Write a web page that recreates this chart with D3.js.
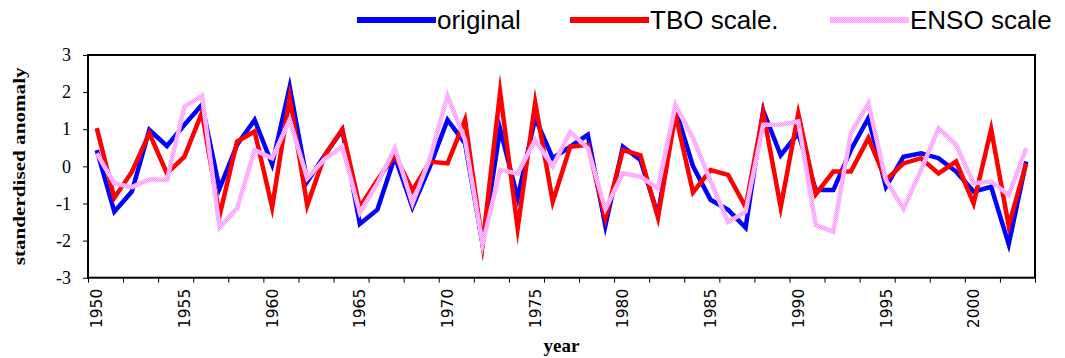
<!DOCTYPE html>
<html>
<head>
<meta charset="utf-8">
<script src="https://cdn.jsdelivr.net/npm/d3@7"></script>
<style>
  body { margin: 0; background: white; }
  svg { display: block; }
</style>
</head>
<body>
<div id="chart"></div>
<script>
const years = d3.range(1950, 2004);

const original = [0.44, -1.22, -0.68, 0.98, 0.55, 1.12, 1.66, -0.6, 0.58, 1.25,
  0.05, 2.14, -0.41, 0.3, 0.98, -1.55, -1.17, 0.26, -1.1, 0.0,
  1.25, 0.62, -2.1, 1.0, -0.85, 1.3, 0.22, 0.53, 0.85, -1.6,
  0.53, 0.17, -1.3, 1.55, 0.0, -0.9, -1.17, -1.65, 1.5, 0.3,
  0.89, -0.64, -0.64, 0.44, 1.3, -0.55, 0.26, 0.35, 0.22, -0.14,
  -0.68, -0.55, -2.1, 0.13];

const tbo = [1.03, -0.85, -0.15, 0.89, -0.19, 0.26, 1.45, -1.33, 0.67, 0.94,
  -1.1, 1.85, -1.05, 0.3, 1.0, -1.1, -0.37, 0.3, -0.65, 0.13,
  0.08, 1.25, -2.1, 2.0, -1.67, 1.72, -0.95, 0.53, 0.58, -1.4,
  0.44, 0.3, -1.38, 1.4, -0.7, -0.1, -0.23, -1.1, 1.45, -1.1,
  1.42, -0.75, -0.14, -0.14, 0.76, -0.37, 0.08, 0.22, -0.19, 0.13,
  -1.0, 1.0, -1.6, 0.08];

const enso = [0.35, -0.46, -0.56, -0.35, -0.37, 1.61, 1.9, -1.65, -1.13, 0.44,
  0.22, 1.25, -0.32, 0.2, 0.53, -1.25, -0.46, 0.49, -1.0, 0.22,
  1.9, 0.71, -2.1, -0.1, -0.19, 0.71, 0.0, 0.93, 0.49, -1.15,
  -0.19, -0.28, -0.59, 1.65, 0.76, -0.4, -1.5, -1.22, 1.12, 1.12,
  1.21, -1.58, -1.76, 0.89, 1.7, -0.37, -1.15, -0.1, 1.03, 0.58,
  -0.46, -0.41, -0.77, 0.49];

const yTicks = [-3, -2, -1, 0, 1, 2, 3];
const xLabelYears = [1950, 1955, 1960, 1965, 1970, 1975, 1980, 1985, 1990, 1995, 2000];

const series = [
  { name: "original", values: original, color: "#0000ff" },
  { name: "TBO scale.", values: tbo, color: "#ff0000" },
  { name: "ENSO scale", values: enso, color: "url(#pinkTex)" }
];

const W = 1065, H = 358;
const plot = { left: 88, right: 1035, top: 55, bottom: 277.7 };

const svg = d3.select("#chart").append("svg")
  .attr("width", W)
  .attr("height", H);

// checkered pink like the original
const pat = svg.append("defs").append("pattern")
  .attr("id", "pinkTex")
  .attr("patternUnits", "userSpaceOnUse")
  .attr("width", 2).attr("height", 2);
pat.append("rect").attr("width", 2).attr("height", 2).attr("fill", "#ffc4ff");
pat.append("rect").attr("width", 1).attr("height", 1).attr("fill", "#ff9cff");
pat.append("rect").attr("x", 1).attr("y", 1).attr("width", 1).attr("height", 1).attr("fill", "#ff9cff");

const x = d3.scaleBand()
  .domain(years)
  .range([plot.left, plot.right])
  .padding(0);

// category boundaries for tick marks
const xEdge = d3.scaleLinear()
  .domain([0, years.length])
  .range([plot.left, plot.right]);

const y = d3.scaleLinear()
  .domain([-3, 3])
  .range([plot.bottom, plot.top]);

// tick marks every 2 categories
svg.append("g")
  .attr("transform", `translate(0,${plot.bottom})`)
  .call(d3.axisBottom(xEdge)
    .tickValues(d3.range(0, years.length + 1, 2))
    .tickSize(5)
    .tickFormat(""))
  .call(g => g.select(".domain").remove())
  .call(g => g.selectAll("line").attr("stroke", "#000"));

// year labels, rotated
const xLab = svg.append("g")
  .attr("transform", `translate(0,${plot.bottom})`)
  .call(d3.axisBottom(x).tickValues(xLabelYears).tickSize(0).tickFormat(d => String(d)))
  .call(g => g.select(".domain").remove());
xLab.selectAll("text")
  .attr("transform", "rotate(-90)")
  .attr("x", -11)
  .attr("y", 0)
  .attr("dy", "0.36em")
  .attr("text-anchor", "end")
  .attr("font-family", "DejaVu Sans, Verdana, sans-serif")
  .attr("font-size", 15.5)
  .attr("fill", "#000");

// y axis
svg.append("g")
  .attr("transform", `translate(${plot.left},0)`)
  .call(d3.axisLeft(y).tickValues(yTicks).tickSize(5).tickFormat(d => String(d)))
  .call(g => g.select(".domain").remove())
  .call(g => g.selectAll("line").attr("stroke", "#000"))
  .call(g => g.selectAll("text")
    .attr("x", -17)
    .attr("font-family", "Liberation Serif, Times New Roman, serif")
    .attr("font-size", 18)
    .attr("fill", "#000"));

// series lines (sharp joins, as in the original)
const line = d3.line()
  .x((d, i) => x(years[i]) + x.bandwidth() / 2)
  .y(d => y(d));

svg.append("g")
  .selectAll("path")
  .data(series)
  .join("path")
  .attr("d", d => line(d.values))
  .attr("fill", "none")
  .attr("stroke", d => d.color)
  .attr("stroke-width", 4.5)
  .attr("stroke-linejoin", "miter")
  .attr("stroke-miterlimit", 10);

// plot frame
svg.append("rect")
  .attr("x", plot.left)
  .attr("y", plot.top)
  .attr("width", plot.right - plot.left)
  .attr("height", plot.bottom - plot.top)
  .attr("fill", "none")
  .attr("stroke", "#000")
  .attr("stroke-width", 2);

// axis titles
svg.append("text")
  .attr("transform", `translate(25,${(plot.top + plot.bottom) / 2}) rotate(-90)`)
  .attr("text-anchor", "middle")
  .attr("font-family", "Liberation Serif, Times New Roman, serif")
  .attr("font-weight", "bold")
  .attr("font-size", 17)
  .attr("textLength", 198)
  .attr("lengthAdjust", "spacingAndGlyphs")
  .text("standerdised anomaly");

svg.append("text")
  .attr("x", (plot.left + plot.right) / 2)
  .attr("y", 352)
  .attr("text-anchor", "middle")
  .attr("font-family", "Liberation Serif, Times New Roman, serif")
  .attr("font-weight", "bold")
  .attr("font-size", 19)
  .text("year");

// legend
const legendX = [357, 570, 830];
const leg = svg.append("g")
  .selectAll("g")
  .data(series)
  .join("g")
  .attr("transform", (d, i) => `translate(${legendX[i]},0)`);
leg.append("line")
  .attr("x1", 0).attr("x2", 79)
  .attr("y1", 20).attr("y2", 20)
  .attr("stroke", d => d.color)
  .attr("stroke-width", 6);
leg.append("text")
  .attr("x", 80)
  .attr("y", 29)
  .attr("font-family", "Liberation Sans, Arial, sans-serif")
  .attr("font-size", 26)
  .attr("fill", "#000")
  .text(d => d.name);
</script>
</body>
</html>
